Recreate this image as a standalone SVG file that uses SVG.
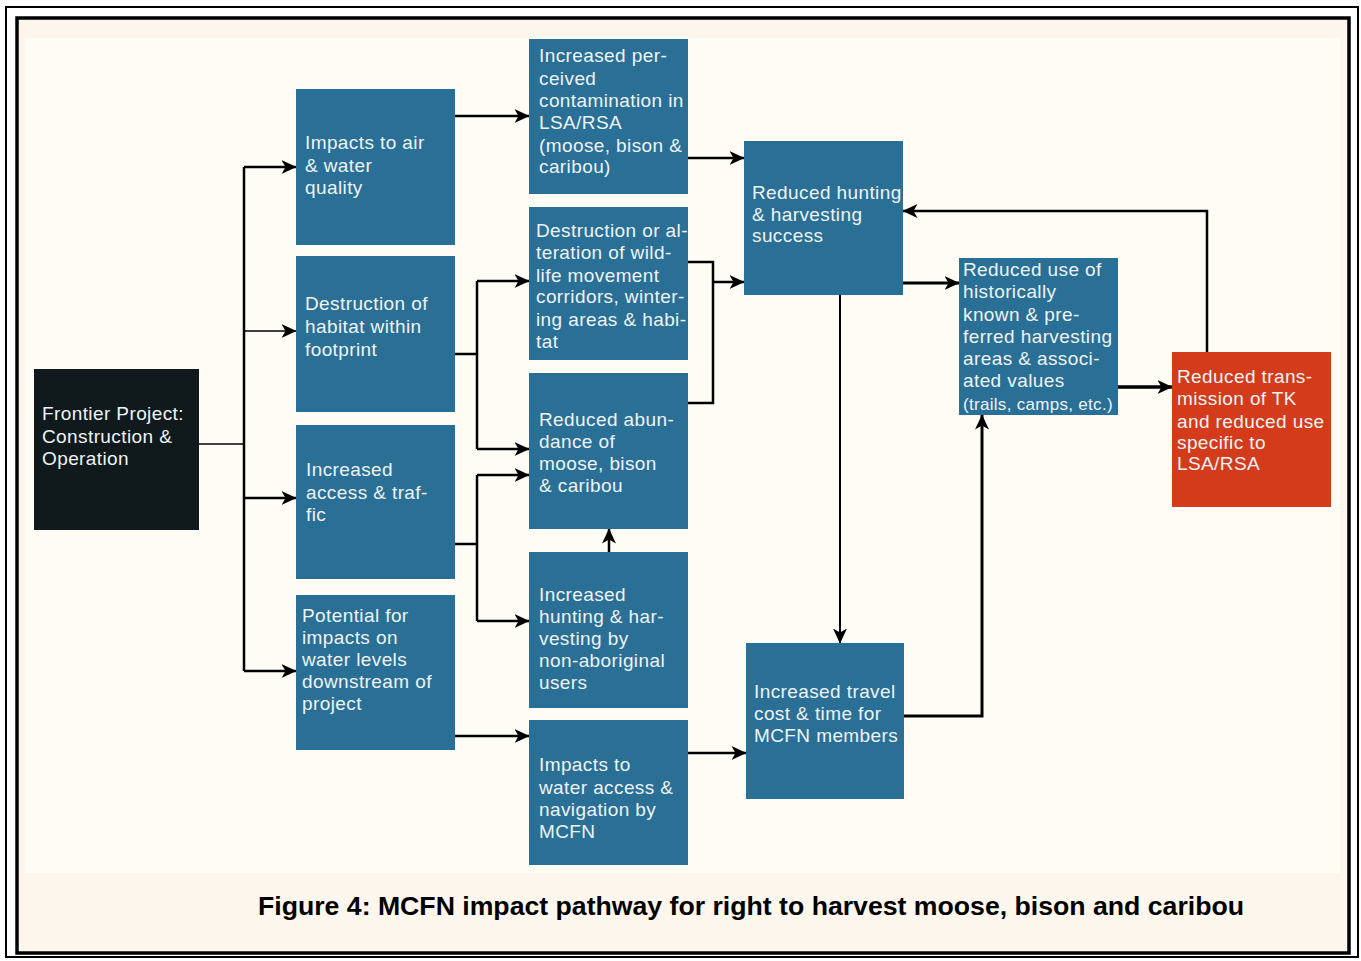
<svg xmlns="http://www.w3.org/2000/svg" width="1361" height="961" viewBox="0 0 1361 961">
<defs>
<marker id="ah" markerUnits="userSpaceOnUse" markerWidth="15" markerHeight="14" viewBox="0 0 15 14" refX="14.5" refY="7" orient="auto"><path d="M0,0 L15,7 L0,14 L4,7 z" fill="#000"/></marker>
</defs>
<style>
.box{fill:#2a6f95}
.t{font-family:"Liberation Sans",Arial,sans-serif;font-size:19px;letter-spacing:0.4px;fill:#eef4f6}
.c{fill:none;stroke:#000;stroke-width:2.5}
.a{marker-end:url(#ah)}
.thin{stroke-width:1.6}
.cap{font-family:"Liberation Sans",Arial,sans-serif;font-size:26.5px;font-weight:bold;fill:#000}
</style>
<rect width="1361" height="961" fill="#fff"/>
<rect x="6" y="7" width="1352" height="950" fill="none" stroke="#000" stroke-width="2"/>
<rect x="17" y="18" width="1332" height="935" fill="#fdf6ec" stroke="#000" stroke-width="3.5"/>
<rect x="25" y="38" width="1315" height="835" fill="#fefcf4"/>

<g id="connectors">
<path class="c thin" d="M199,444 H244"/>
<path class="c" d="M244,167 V671"/>
<path class="c a" d="M244,167 H296"/>
<path class="c thin a" d="M244,331 H296"/>
<path class="c a" d="M244,498 H296"/>
<path class="c a" d="M244,671 H296"/>
<path class="c a" d="M455,116 H529"/>
<path class="c a" d="M688,158 H744"/>
<path class="c" d="M455,354 H477 M477,281 V449"/>
<path class="c a" d="M477,281 H529"/>
<path class="c a" d="M477,449 H529"/>
<path class="c" d="M455,544 H477 M477,475 V621"/>
<path class="c a" d="M477,475 H529"/>
<path class="c a" d="M477,621 H529"/>
<path class="c a" d="M609,552 V529"/>
<path class="c a" d="M455,736 H529"/>
<path class="c a" d="M688,753 H746"/>
<path class="c" d="M688,262 H713 V403 H688"/>
<path class="c a" d="M713,282 H744"/>
<path class="c a" d="M903,283 H959" style="stroke-width:3"/>
<path class="c a" d="M840,295 V643" style="stroke-width:2"/>
<path class="c a" d="M904,716 H982 V415" style="stroke-width:3"/>
<path class="c a" d="M1118,387 H1172" style="stroke-width:3.5"/>
<path class="c a" d="M1207,352 V211 H903"/>
</g>

<g id="frontier">
<rect x="34" y="369" width="165" height="161" fill="#10191c"/>
<text class="t"><tspan x="42" y="420">Frontier Project:</tspan><tspan x="42" y="443">Construction &amp;</tspan><tspan x="42" y="465">Operation</tspan></text>
</g>
<g id="air-water">
<rect class="box" x="296" y="89" width="159" height="156"/>
<text class="t"><tspan x="305" y="149">Impacts to air</tspan><tspan x="305" y="172">&amp; water</tspan><tspan x="305" y="194">quality</tspan></text>
</g>
<g id="habitat">
<rect class="box" x="296" y="256" width="159" height="156"/>
<text class="t"><tspan x="305" y="310">Destruction of</tspan><tspan x="305" y="333">habitat within</tspan><tspan x="305" y="356">footprint</tspan></text>
</g>
<g id="access">
<rect class="box" x="296" y="425" width="159" height="154"/>
<text class="t"><tspan x="306" y="476">Increased</tspan><tspan x="306" y="498.5">access &amp; traf-</tspan><tspan x="306" y="521">fic</tspan></text>
</g>
<g id="water-levels">
<rect class="box" x="296" y="595" width="159" height="155"/>
<text class="t"><tspan x="302" y="622">Potential for</tspan><tspan x="302" y="644">impacts on</tspan><tspan x="302" y="666">water levels</tspan><tspan x="302" y="688">downstream of</tspan><tspan x="302" y="710">project</tspan></text>
</g>
<g id="contamination">
<rect class="box" x="529" y="39" width="159" height="155"/>
<text class="t"><tspan x="539" y="62">Increased per-</tspan><tspan x="539" y="85">ceived</tspan><tspan x="539" y="107">contamination in</tspan><tspan x="539" y="129">LSA/RSA</tspan><tspan x="539" y="152">(moose, bison &amp;</tspan><tspan x="539" y="173">caribou)</tspan></text>
</g>
<g id="corridors">
<rect class="box" x="529" y="207" width="159" height="153"/>
<text class="t"><tspan x="536" y="237">Destruction or al-</tspan><tspan x="536" y="259">teration of wild-</tspan><tspan x="536" y="282">life movement</tspan><tspan x="536" y="303">corridors, winter-</tspan><tspan x="536" y="326">ing areas &amp; habi-</tspan><tspan x="536" y="348">tat</tspan></text>
</g>
<g id="abundance">
<rect class="box" x="529" y="373" width="159" height="156"/>
<text class="t"><tspan x="539" y="426">Reduced abun-</tspan><tspan x="539" y="448">dance of</tspan><tspan x="539" y="470">moose, bison</tspan><tspan x="539" y="492">&amp; caribou</tspan></text>
</g>
<g id="non-aboriginal">
<rect class="box" x="529" y="552" width="159" height="156"/>
<text class="t"><tspan x="539" y="601">Increased</tspan><tspan x="539" y="623">hunting &amp; har-</tspan><tspan x="539" y="645">vesting by</tspan><tspan x="539" y="667">non-aboriginal</tspan><tspan x="539" y="689">users</tspan></text>
</g>
<g id="navigation">
<rect class="box" x="529" y="720" width="159" height="145"/>
<text class="t"><tspan x="539" y="771">Impacts to</tspan><tspan x="539" y="794">water access &amp;</tspan><tspan x="539" y="816">navigation by</tspan><tspan x="539" y="838">MCFN</tspan></text>
</g>
<g id="hunting-success">
<rect class="box" x="744" y="141" width="159" height="154"/>
<text class="t"><tspan x="752" y="199">Reduced hunting</tspan><tspan x="752" y="221">&amp; harvesting</tspan><tspan x="752" y="242">success</tspan></text>
</g>
<g id="travel">
<rect class="box" x="746" y="643" width="158" height="156"/>
<text class="t"><tspan x="754" y="698">Increased travel</tspan><tspan x="754" y="720">cost &amp; time for</tspan><tspan x="754" y="742">MCFN members</tspan></text>
</g>
<g id="reduced-use">
<rect class="box" x="959" y="258" width="159" height="157"/>
<text class="t"><tspan x="963" y="276">Reduced use of</tspan><tspan x="963" y="298">historically</tspan><tspan x="963" y="321">known &amp; pre-</tspan><tspan x="963" y="343">ferred harvesting</tspan><tspan x="963" y="365">areas &amp; associ-</tspan><tspan x="963" y="387">ated values</tspan><tspan x="963" y="410" style="font-size:17px;letter-spacing:0.3px">(trails, camps, etc.)</tspan></text>
</g>
<g id="transmission">
<rect x="1172" y="352" width="159" height="155" fill="#d33b1a"/>
<text class="t"><tspan x="1177" y="383">Reduced trans-</tspan><tspan x="1177" y="405">mission of TK</tspan><tspan x="1177" y="428">and reduced use</tspan><tspan x="1177" y="449">specific to</tspan><tspan x="1177" y="470">LSA/RSA</tspan></text>
</g>
<text class="cap" x="258" y="915" textLength="986" lengthAdjust="spacingAndGlyphs">Figure 4: MCFN impact pathway for right to harvest moose, bison and caribou</text>
</svg>
